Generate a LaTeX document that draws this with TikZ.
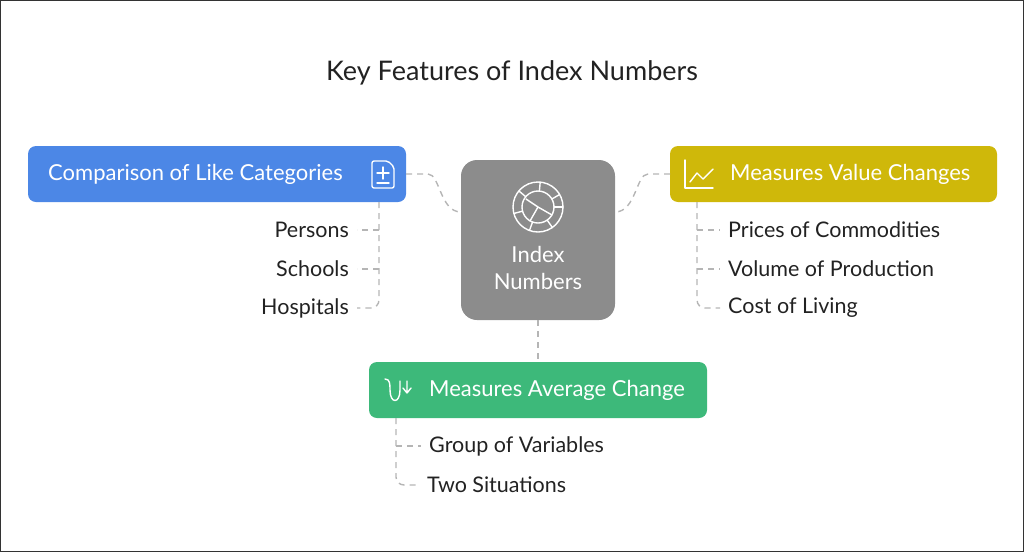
\documentclass[tikz,border=0pt]{standalone}
\usepackage{fontspec}
\setmainfont{Lato}
\usetikzlibrary{positioning,calc}
\definecolor{boxblue}{HTML}{4C87E6}
\definecolor{boxyellow}{HTML}{CFB80A}
\definecolor{boxgreen}{HTML}{3DB97A}
\definecolor{boxgray}{HTML}{8C8C8C}
\definecolor{linkgray}{HTML}{B5B5B5}
\definecolor{txt}{HTML}{222222}
\tikzset{
  leaf/.style={text=txt,font=\fontsize{21.5}{26}\selectfont,inner sep=8pt},
  topic/.style={text=white,font=\fontsize{22}{26}\selectfont,anchor=west,inner sep=0pt},
  link/.style={draw=linkgray,dashed,dash pattern=on 6pt off 5pt,line width=1.4pt,rounded corners=8pt},
  glyph/.style={draw=white,line width=1.4pt,line cap=round,line join=round}
}
\begin{document}
\begin{tikzpicture}[x=1pt,y=-1pt]
\useasboundingbox (0,0) rectangle (1024,552);
\draw[black!80,line width=1pt] (0.5,0.5) rectangle (1023.5,551.5);
\node[font=\fontsize{27}{32}\selectfont,text=txt] (title) at (512,73) {Key Features of Index Numbers};
% topic boxes
\fill[boxblue,rounded corners=8pt] (28,146) rectangle (406,202);
\coordinate (blueR) at (406,174);
\coordinate (blueB) at (379,202);
\node[topic] (blue) at (48,174) {Comparison of Like Categories};
\fill[boxyellow,rounded corners=8pt] (670,146) rectangle (997,202);
\coordinate (yelL) at (670,174);
\coordinate (yelB) at (697,202);
\node[topic] (yellow) at (730,174) {Measures Value Changes};
\fill[boxgreen,rounded corners=8pt] (369,362) rectangle (707,418);
\coordinate (grnT) at (538,362);
\coordinate (grnB) at (396,418);
\node[topic] (green) at (429,390) {Measures Average Change};
\fill[boxgray,rounded corners=16pt] (461,160) rectangle (615,320);
\coordinate (ctrL) at (461,212);
\coordinate (ctrR) at (615,212);
\coordinate (ctrB) at (538,320);
\node[text=white,font=\fontsize{22}{27}\selectfont,align=center] (center) at (538,268) {Index\\Numbers};
% icons
\draw[glyph,rounded corners=2pt] (372,161) -- (372,188) -- (394,188) -- (394,167) -- (388,161) -- cycle;
\draw[glyph] (377,173) -- (389,173) (383,167) -- (383,179) (377,183) -- (389,183);
\draw[glyph] (685,160) -- (685,188) -- (713,188);
\draw[glyph] (690,182) -- (697,173) -- (703,179) -- (713,169);
\draw[glyph] (385,379) .. controls (390,379) and (390,384) .. (390,390) .. controls (390,404) and (400,404) .. (400,390) -- (400,381) (407,381) -- (407,391) (403,388) -- (407,393) -- (411,388);
\draw[glyph] (538,207) circle (25) (538,207) circle (16);
\foreach \a in {0,55,110,165,220,275,330} \draw[glyph] (538,207) ++(\a:16) -- ++(\a:9);
\draw[glyph] (538,207) -- (552,215) (538,207) -- (530,221) (538,207) -- (526,199);
% leaves
\node[leaf,anchor=east] (persons) at (357,230) {Persons};
\node[leaf,anchor=east] (schools) at (357,269) {Schools};
\node[leaf,anchor=east] (hospitals) at (357,308) {Hospitals};
\node[leaf,anchor=west] (prices) at (720,230) {Prices of Commodities};
\node[leaf,anchor=west] (volume) at (720,269) {Volume of Production};
\node[leaf,anchor=west] (cost) at (720,308) {Cost of Living};
\node[leaf,anchor=west] (group) at (421,446) {Group of Variables};
\node[leaf,anchor=west] (two) at (419,485) {Two Situations};
% links
\draw[link] (blueR) -- (420,174) .. controls (440,174) and (440,212) .. (ctrL);
\draw[link] (yelL) -- (656,174) .. controls (636,174) and (636,212) .. (ctrR);
\draw[link] (ctrB) -- (grnT);
\draw[link] (blueB) |- (hospitals.east);
\draw[link] (379,230) -- (persons.east);
\draw[link] (379,269) -- (schools.east);
\draw[link] (yelB) |- (cost.west);
\draw[link] (697,230) -- (prices.west);
\draw[link] (697,269) -- (volume.west);
\draw[link] (grnB) |- (two.west);
\draw[link] (396,446) -- (group.west);
\end{tikzpicture}
\end{document}
